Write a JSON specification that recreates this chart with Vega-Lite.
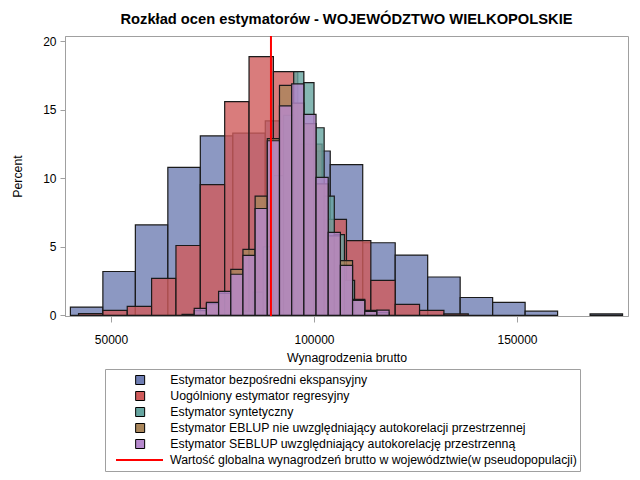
{
  "$schema": "https://vega.github.io/schema/vega-lite/v6.json",
  "width": 563,
  "height": 280,
  "autosize": {"type": "none"},
  "padding": {"left": 65, "top": 36, "right": 12, "bottom": 164},
  "background": "white",
  "config": {
    "font": "Liberation Sans",
    "view": {"stroke": "#a0a0a0", "strokeWidth": 1},
    "axis": {
      "grid": false,
      "domainColor": "#a0a0a0",
      "tickColor": "#a0a0a0",
      "labelColor": "black",
      "titleColor": "black",
      "labelFont": "Liberation Sans",
      "titleFont": "Liberation Sans",
      "labelFontSize": 12,
      "titleFontSize": 12.3,
      "titleFontWeight": "normal"
    }
  },
  "title": {
    "text": "Rozkład ocen estymatorów - WOJEWÓDZTWO WIELKOPOLSKIE",
    "font": "Liberation Sans",
    "fontSize": 14.7,
    "fontWeight": "bold",
    "color": "black",
    "anchor": "middle",
    "offset": 8
  },
  "layer": [
    {
      "data": {
        "values": [
          {"s": "Estymator bezpośredni ekspansyjny", "x0": 40000, "x1": 48000, "p": 0.6},
          {"s": "Estymator bezpośredni ekspansyjny", "x0": 48000, "x1": 56000, "p": 3.2},
          {"s": "Estymator bezpośredni ekspansyjny", "x0": 56000, "x1": 64000, "p": 6.6},
          {"s": "Estymator bezpośredni ekspansyjny", "x0": 64000, "x1": 72000, "p": 10.8},
          {"s": "Estymator bezpośredni ekspansyjny", "x0": 72000, "x1": 80000, "p": 13.1},
          {"s": "Estymator bezpośredni ekspansyjny", "x0": 80000, "x1": 88000, "p": 13.3},
          {"s": "Estymator bezpośredni ekspansyjny", "x0": 88000, "x1": 96000, "p": 14.2},
          {"s": "Estymator bezpośredni ekspansyjny", "x0": 96000, "x1": 104000, "p": 12.0},
          {"s": "Estymator bezpośredni ekspansyjny", "x0": 104000, "x1": 112000, "p": 11.0},
          {"s": "Estymator bezpośredni ekspansyjny", "x0": 112000, "x1": 120000, "p": 5.3},
          {"s": "Estymator bezpośredni ekspansyjny", "x0": 120000, "x1": 128000, "p": 4.4},
          {"s": "Estymator bezpośredni ekspansyjny", "x0": 128000, "x1": 136000, "p": 2.8},
          {"s": "Estymator bezpośredni ekspansyjny", "x0": 136000, "x1": 144000, "p": 1.3},
          {"s": "Estymator bezpośredni ekspansyjny", "x0": 144000, "x1": 152000, "p": 0.95},
          {"s": "Estymator bezpośredni ekspansyjny", "x0": 152000, "x1": 160000, "p": 0.3},
          {"s": "Estymator bezpośredni ekspansyjny", "x0": 168000, "x1": 176000, "p": 0.1},
          {"s": "Uogólniony estymator regresyjny", "x0": 42000, "x1": 48000, "p": 0.13},
          {"s": "Uogólniony estymator regresyjny", "x0": 48000, "x1": 54000, "p": 0.36},
          {"s": "Uogólniony estymator regresyjny", "x0": 54000, "x1": 60000, "p": 0.66},
          {"s": "Uogólniony estymator regresyjny", "x0": 60000, "x1": 66000, "p": 2.7},
          {"s": "Uogólniony estymator regresyjny", "x0": 66000, "x1": 72000, "p": 5.1},
          {"s": "Uogólniony estymator regresyjny", "x0": 72000, "x1": 78000, "p": 9.55},
          {"s": "Uogólniony estymator regresyjny", "x0": 78000, "x1": 84000, "p": 15.6},
          {"s": "Uogólniony estymator regresyjny", "x0": 84000, "x1": 90000, "p": 18.9},
          {"s": "Uogólniony estymator regresyjny", "x0": 90000, "x1": 96000, "p": 17.8},
          {"s": "Uogólniony estymator regresyjny", "x0": 96000, "x1": 102000, "p": 12.5},
          {"s": "Uogólniony estymator regresyjny", "x0": 102000, "x1": 108000, "p": 7.0},
          {"s": "Uogólniony estymator regresyjny", "x0": 108000, "x1": 114000, "p": 5.45},
          {"s": "Uogólniony estymator regresyjny", "x0": 114000, "x1": 120000, "p": 2.55},
          {"s": "Uogólniony estymator regresyjny", "x0": 120000, "x1": 126000, "p": 0.8},
          {"s": "Uogólniony estymator regresyjny", "x0": 126000, "x1": 132000, "p": 0.36},
          {"s": "Uogólniony estymator regresyjny", "x0": 132000, "x1": 138000, "p": 0.1},
          {"s": "Estymator syntetyczny", "x0": 82500, "x1": 85000, "p": 0.3},
          {"s": "Estymator syntetyczny", "x0": 85000, "x1": 87500, "p": 1.7},
          {"s": "Estymator syntetyczny", "x0": 87500, "x1": 90000, "p": 5.0},
          {"s": "Estymator syntetyczny", "x0": 90000, "x1": 92500, "p": 10.2},
          {"s": "Estymator syntetyczny", "x0": 92500, "x1": 95000, "p": 14.6},
          {"s": "Estymator syntetyczny", "x0": 95000, "x1": 97500, "p": 17.8},
          {"s": "Estymator syntetyczny", "x0": 97500, "x1": 100000, "p": 17.0},
          {"s": "Estymator syntetyczny", "x0": 100000, "x1": 102500, "p": 13.7},
          {"s": "Estymator syntetyczny", "x0": 102500, "x1": 105000, "p": 8.7},
          {"s": "Estymator syntetyczny", "x0": 105000, "x1": 107500, "p": 5.9},
          {"s": "Estymator syntetyczny", "x0": 107500, "x1": 110000, "p": 2.55},
          {"s": "Estymator syntetyczny", "x0": 110000, "x1": 112500, "p": 1.1},
          {"s": "Estymator syntetyczny", "x0": 112500, "x1": 115000, "p": 0.3},
          {"s": "Estymator EBLUP nie uwzględniający autokorelacji przestrzennej", "x0": 70500, "x1": 73500, "p": 0.34},
          {"s": "Estymator EBLUP nie uwzględniający autokorelacji przestrzennej", "x0": 73500, "x1": 76500, "p": 0.85},
          {"s": "Estymator EBLUP nie uwzględniający autokorelacji przestrzennej", "x0": 76500, "x1": 79500, "p": 1.6},
          {"s": "Estymator EBLUP nie uwzględniający autokorelacji przestrzennej", "x0": 79500, "x1": 82500, "p": 3.36},
          {"s": "Estymator EBLUP nie uwzględniający autokorelacji przestrzennej", "x0": 82500, "x1": 85500, "p": 4.82},
          {"s": "Estymator EBLUP nie uwzględniający autokorelacji przestrzennej", "x0": 85500, "x1": 88500, "p": 8.7},
          {"s": "Estymator EBLUP nie uwzględniający autokorelacji przestrzennej", "x0": 88500, "x1": 91500, "p": 12.9},
          {"s": "Estymator EBLUP nie uwzględniający autokorelacji przestrzennej", "x0": 91500, "x1": 94500, "p": 16.8},
          {"s": "Estymator EBLUP nie uwzględniający autokorelacji przestrzennej", "x0": 94500, "x1": 97500, "p": 15.5},
          {"s": "Estymator EBLUP nie uwzględniający autokorelacji przestrzennej", "x0": 97500, "x1": 100500, "p": 14.0},
          {"s": "Estymator EBLUP nie uwzględniający autokorelacji przestrzennej", "x0": 100500, "x1": 103500, "p": 9.6},
          {"s": "Estymator EBLUP nie uwzględniający autokorelacji przestrzennej", "x0": 103500, "x1": 106500, "p": 5.8},
          {"s": "Estymator EBLUP nie uwzględniający autokorelacji przestrzennej", "x0": 106500, "x1": 109500, "p": 4.0},
          {"s": "Estymator EBLUP nie uwzględniający autokorelacji przestrzennej", "x0": 109500, "x1": 112500, "p": 1.17},
          {"s": "Estymator EBLUP nie uwzględniający autokorelacji przestrzennej", "x0": 112500, "x1": 115500, "p": 0.36},
          {"s": "Estymator EBLUP nie uwzględniający autokorelacji przestrzennej", "x0": 115500, "x1": 118500, "p": 0.2},
          {"s": "Estymator SEBLUP uwzględniający autokorelację przestrzenną", "x0": 67500, "x1": 70500, "p": 0.07},
          {"s": "Estymator SEBLUP uwzględniający autokorelację przestrzenną", "x0": 70500, "x1": 73500, "p": 0.51},
          {"s": "Estymator SEBLUP uwzględniający autokorelację przestrzenną", "x0": 73500, "x1": 76500, "p": 0.95},
          {"s": "Estymator SEBLUP uwzględniający autokorelację przestrzenną", "x0": 76500, "x1": 79500, "p": 1.75},
          {"s": "Estymator SEBLUP uwzględniający autokorelację przestrzenną", "x0": 79500, "x1": 82500, "p": 3.0},
          {"s": "Estymator SEBLUP uwzględniający autokorelację przestrzenną", "x0": 82500, "x1": 85500, "p": 4.38},
          {"s": "Estymator SEBLUP uwzględniający autokorelację przestrzenną", "x0": 85500, "x1": 88500, "p": 7.8},
          {"s": "Estymator SEBLUP uwzględniający autokorelację przestrzenną", "x0": 88500, "x1": 91500, "p": 12.75},
          {"s": "Estymator SEBLUP uwzględniający autokorelację przestrzenną", "x0": 91500, "x1": 94500, "p": 15.3},
          {"s": "Estymator SEBLUP uwzględniający autokorelację przestrzenną", "x0": 94500, "x1": 97500, "p": 16.9},
          {"s": "Estymator SEBLUP uwzględniający autokorelację przestrzenną", "x0": 97500, "x1": 100500, "p": 14.67},
          {"s": "Estymator SEBLUP uwzględniający autokorelację przestrzenną", "x0": 100500, "x1": 103500, "p": 10.07},
          {"s": "Estymator SEBLUP uwzględniający autokorelację przestrzenną", "x0": 103500, "x1": 106500, "p": 6.06},
          {"s": "Estymator SEBLUP uwzględniający autokorelację przestrzenną", "x0": 106500, "x1": 109500, "p": 3.65},
          {"s": "Estymator SEBLUP uwzględniający autokorelację przestrzenną", "x0": 109500, "x1": 112500, "p": 1.09},
          {"s": "Estymator SEBLUP uwzględniający autokorelację przestrzenną", "x0": 112500, "x1": 115500, "p": 0.29},
          {"s": "Estymator SEBLUP uwzględniający autokorelację przestrzenną", "x0": 115500, "x1": 118500, "p": 0.38}
        ]
      },
      "mark": {"type": "bar", "fillOpacity": 0.8, "stroke": "#1a1a1a", "strokeWidth": 1.2},
      "encoding": {
        "x": {
          "field": "x0",
          "type": "quantitative",
          "scale": {"domain": [38670, 177340], "nice": false, "zero": false},
          "axis": {
            "title": "Wynagrodzenia brutto",
            "values": [50000, 100000, 150000],
            "format": "d",
            "tickSize": 6,
            "labelPadding": 12,
            "titlePadding": 6
          }
        },
        "x2": {"field": "x1"},
        "y": {
          "field": "p",
          "type": "quantitative",
          "scale": {"domain": [-0.05, 20.4], "nice": false, "zero": false},
          "axis": {
            "title": "Percent",
            "values": [0, 5, 10, 15, 20],
            "tickSize": 5,
            "labelPadding": 4,
            "titlePadding": 18
          }
        },
        "y2": {"datum": 0},
        "color": {
          "field": "s",
          "type": "nominal",
          "scale": {
            "domain": [
              "Estymator bezpośredni ekspansyjny",
              "Uogólniony estymator regresyjny",
              "Estymator syntetyczny",
              "Estymator EBLUP nie uwzględniający autokorelacji przestrzennej",
              "Estymator SEBLUP uwzględniający autokorelację przestrzenną"
            ],
            "range": ["#6F7EB3", "#D05B5B", "#66A5A0", "#A9865B", "#B689CD"]
          },
          "legend": {
            "orient": "none",
            "legendX": 40,
            "legendY": 333,
            "direction": "vertical",
            "title": null,
            "padding": 3,
            "clipHeight": 16,
            "rowPadding": 0,
            "symbolType": "square",
            "symbolSize": 81,
            "symbolStrokeColor": "black",
            "symbolStrokeWidth": 1,
            "symbolOffset": 26,
            "labelOffset": 24,
            "labelFont": "Liberation Sans",
            "labelFontSize": 12.3,
            "labelColor": "black",
            "labelLimit": 600,
            "zindex": 2
          }
        }
      }
    },
    {
      "data": {"values": [{"v": 89400, "s": "Wartość globalna wynagrodzeń brutto w województwie(w pseudopopulacji)"}]},
      "mark": {"type": "rule", "color": "#ff0000", "strokeWidth": 2},
      "encoding": {
        "x": {"field": "v", "type": "quantitative"},
        "strokeDash": {
          "field": "s",
          "type": "nominal",
          "scale": {
            "domain": [" ", "  ", "   ", "    ", "     ", "Wartość globalna wynagrodzeń brutto w województwie(w pseudopopulacji)"],
            "range": [[0, 100], [0, 100], [0, 100], [0, 100], [0, 100], [1, 0]]
          },
          "legend": {
            "orient": "none",
            "legendX": 40,
            "legendY": 333,
            "direction": "vertical",
            "title": null,
            "padding": 3,
            "strokeColor": "#a0a0a0",
            "fillColor": "white",
            "clipHeight": 16,
            "rowPadding": 0,
            "symbolType": "stroke",
            "symbolSize": 2209,
            "symbolStrokeColor": "#ff0000",
            "symbolStrokeWidth": 2,
            "symbolOffset": 7,
            "labelOffset": 6,
            "labelFont": "Liberation Sans",
            "labelFontSize": 12.3,
            "labelColor": "black",
            "labelLimit": 600,
            "zindex": 1
          }
        }
      }
    }
  ]
}
